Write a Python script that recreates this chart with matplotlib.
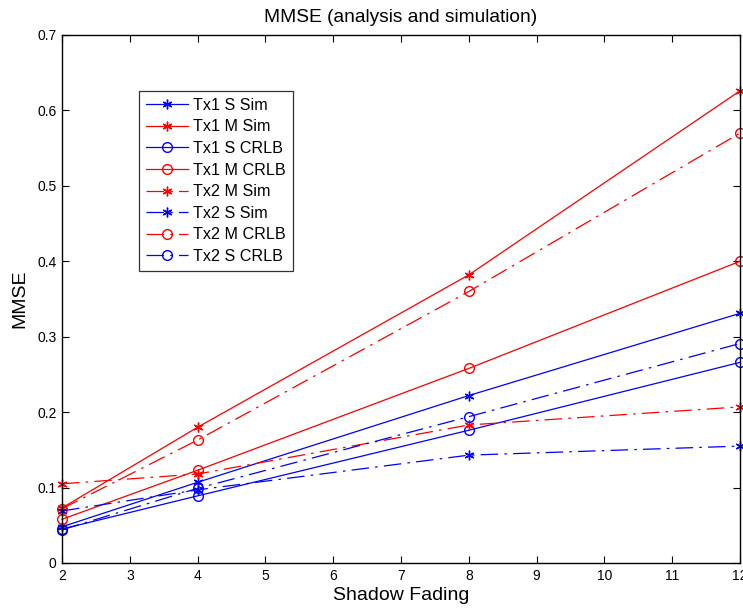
import matplotlib
matplotlib.use("Agg")
import matplotlib.pyplot as plt

plt.rcParams['font.family'] = ['Liberation Sans', 'DejaVu Sans']

x = [2, 4, 8, 12]
tx1_s_sim = [0.048, 0.107, 0.222, 0.331]
tx1_m_sim = [0.073, 0.180, 0.382, 0.626]
tx1_s_crlb = [0.045, 0.089, 0.176, 0.266]
tx1_m_crlb = [0.058, 0.123, 0.258, 0.400]
tx2_m_sim = [0.105, 0.118, 0.183, 0.207]
tx2_s_sim = [0.069, 0.097, 0.143, 0.155]
tx2_m_crlb = [0.072, 0.163, 0.360, 0.570]
tx2_s_crlb = [0.044, 0.099, 0.194, 0.291]

series = [
    ("Tx1 S Sim", tx1_s_sim),
    ("Tx1 M Sim", tx1_m_sim),
    ("Tx1 S CRLB", tx1_s_crlb),
    ("Tx1 M CRLB", tx1_m_crlb),
    ("Tx2 M Sim", tx2_m_sim),
    ("Tx2 S Sim", tx2_s_sim),
    ("Tx2 M CRLB", tx2_m_crlb),
    ("Tx2 S CRLB", tx2_s_crlb),
]

fig = plt.figure(figsize=(7.43, 6.12), dpi=100)
ax = fig.add_axes([62/743, 49/612, 678/743, 528/612])

dashdot = (0, (14, 5, 2, 5))
for label, vals in series:
    color = 'red' if ' M ' in label else 'blue'
    is_star = 'Sim' in label
    marker = (6, 2, 0) if is_star else 'o'
    ls = '-' if label.startswith('Tx1') else dashdot
    ax.plot(x, vals, color=color, linestyle=ls, marker=marker, lw=0.9,
            markersize=7, mfc=color if is_star else 'none',
            mew=1.0, label=label, clip_on=False)

ax.set_xlim(2, 12)
ax.set_ylim(0, 0.7)
ax.set_xticks(range(2, 13))
ax.set_yticks([0, 0.1, 0.2, 0.3, 0.4, 0.5, 0.6, 0.7])
ax.set_yticklabels(['0', '0.1', '0.2', '0.3', '0.4', '0.5', '0.6', '0.7'])
ax.tick_params(direction='in', top=True, right=True, labelsize=10, length=5, pad=4)
for s in ax.spines.values():
    s.set_linewidth(1.0)

ax.set_title("MMSE (analysis and simulation)", fontsize=13.8, pad=9)
ax.set_xlabel("Shadow Fading", fontsize=14, labelpad=3)
ax.set_ylabel("MMSE", fontsize=14, labelpad=6)

leg = ax.legend(loc='upper left', bbox_to_anchor=((139-62)/678, (563-91)/528),
                fontsize=11.6, frameon=True, fancybox=False, edgecolor='black',
                handlelength=2.6, borderpad=0.42, labelspacing=0.41, handletextpad=0.35,
                borderaxespad=0)
leg.get_frame().set_linewidth(0.9)

fig.savefig("out.png", dpi=100)
